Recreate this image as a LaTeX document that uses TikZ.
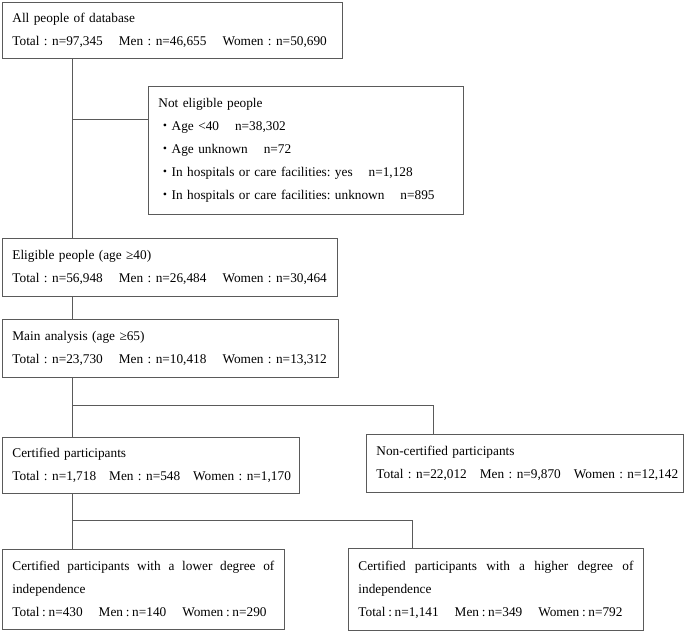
\documentclass[tikz,border=0pt]{standalone}
\usepackage{fontspec}
\setmainfont{Liberation Serif}
\newfontfamily\cjk{Noto Sans CJK JP}
\usepackage{xcolor}
\definecolor{frame-gray}{RGB}{90,90,90}
\usepackage{tikz}
\usetikzlibrary{calc}
\newcommand{\gap}{\hspace{16pt}}
\newcommand{\sgap}{\hspace{13pt}}
\newcommand{\nedot}{{\cjk ・}}
\newcommand{\narrowsp}{\spaceskip=2.7pt plus 12pt\relax}
\frenchspacing
\sloppy
\hyphenpenalty=10000
\exhyphenpenalty=10000

\begin{document}
\begin{tikzpicture}[x=1pt,y=-1pt,
	box/.style={draw=frame-gray,line width=.8pt,anchor=north west,inner xsep=10pt,align=left,font=\fontsize{13.3}{23}\selectfont},
	narrow/.style={font=\fontsize{13.3}{23}\selectfont\narrowsp},
	link/.style={frame-gray,line width=.8pt}]
	\useasboundingbox (0,0) rectangle (685,632);
	\node[box,text width=320pt,minimum height=56pt] (all) at (2,2)
		{All people of database\\Total : n=97,345\gap Men : n=46,655\gap Women : n=50,690};
	\node[box,text width=295pt,minimum height=128pt] (noelig) at (148,86)
		{Not eligible people\\
		\nedot Age <40\gap n=38,302\\
		\nedot Age unknown\gap n=72\\
		\nedot In hospitals or care facilities: yes\gap n=1,128\\
		\nedot In hospitals or care facilities: unknown\gap n=895};
	\node[box,text width=315pt,minimum height=58pt] (elig) at (2,238)
		{Eligible people (age ≥40)\\Total : n=56,948\gap Men : n=26,484\gap Women : n=30,464};
	\node[box,text width=316pt,minimum height=58pt] (main) at (2,319)
		{Main analysis (age ≥65)\\Total : n=23,730\gap Men : n=10,418\gap Women : n=13,312};
	\node[box,narrow,text width=277pt,minimum height=56pt] (cert) at (2,437)
		{Certified participants\\\mbox{Total : n=1,718\sgap Men : n=548\sgap Women : n=1,170}};
	\node[box,narrow,text width=297pt,minimum height=58pt] (noncert) at (366,434)
		{Non-certified participants\\\mbox{Total : n=22,012\sgap Men : n=9,870\sgap Women : n=12,142}};
	\node[box,narrow,align=justify,text width=262pt,minimum height=80pt] (lower) at (2,549)
		{Certified participants with a lower degree of independence\\\mbox{Total : n=430\gap Men : n=140\gap Women : n=290}};
	\node[box,narrow,align=justify,text width=275pt,minimum height=82pt] (higher) at (348,548)
		{Certified participants with a higher degree of independence\\\mbox{Total : n=1,141\gap Men : n=349\gap Women : n=792}};

	\coordinate (trunk) at ([xshift=70pt]all.south west);
	\coordinate (b1) at ([yshift=-33pt]noelig.north west);
	\coordinate (b2) at ([xshift=67pt,yshift=29pt]noncert.north west);
	\coordinate (b3) at ([xshift=64pt,yshift=28pt]higher.north west);
	\draw[link] (trunk) -- (trunk |- elig.north);
	\draw[link] (trunk |- b1) -- (b1);
	\draw[link] (trunk |- elig.south) -- (trunk |- main.north);
	\draw[link] (trunk |- main.south) -- (trunk |- cert.north);
	\draw[link] (trunk |- b2) -- (b2) -- (b2 |- noncert.north);
	\draw[link] (trunk |- cert.south) -- (trunk |- lower.north);
	\draw[link] (trunk |- b3) -- (b3) -- (b3 |- higher.north);
\end{tikzpicture}
\end{document}
